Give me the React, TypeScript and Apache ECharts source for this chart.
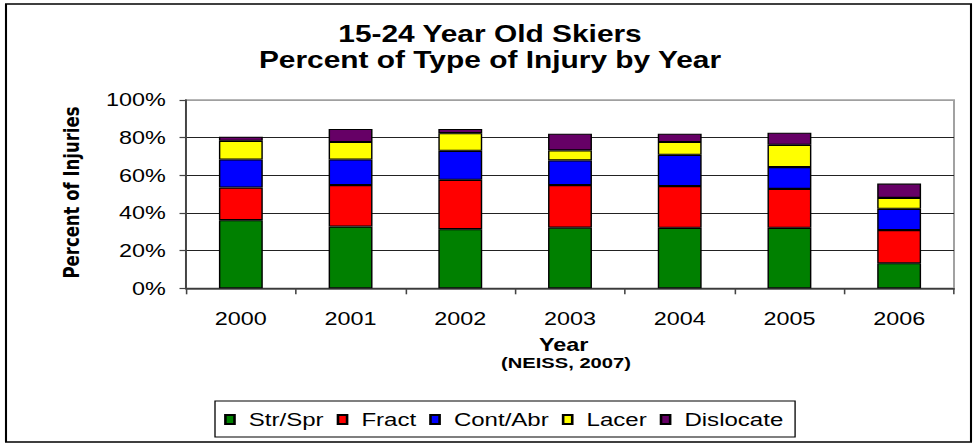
import React, { useEffect, useRef } from "react";
import * as echarts from "echarts";

// ---- data ----
const years = ["2000", "2001", "2002", "2003", "2004", "2005", "2006"];
const strSpr = [36.2, 32.8, 31.4, 32.2, 32.1, 32.1, 13.3];
const fract = [17.3, 22.0, 26.2, 22.6, 22.2, 20.7, 17.6];
const contAbr = [14.9, 13.6, 15.4, 13.1, 16.6, 11.6, 11.3];
const lacer = [9.9, 9.3, 9.4, 5.3, 6.8, 11.8, 5.8];
const dislocate = [2.2, 6.9, 2.2, 8.9, 4.4, 6.4, 7.6];
const seriesNames = ["Str/Spr", "Fract", "Cont/Abr", "Lacer", "Dislocate"];
const seriesData = [strSpr, fract, contAbr, lacer, dislocate];
const seriesColors = ["#008000", "#FF0000", "#0000FF", "#FFFF00", "#660066"];
const titleLines = ["15-24 Year Old Skiers", "Percent of Type of Injury by Year"];
const yAxisName = "Percent of Injuries";
const xAxisName = "Year";
const sourceNote = "(NEISS, 2007)";

// The reference is horizontally stretched; draw at base width and stretch.
const W = 749;
const H = 444;
const SX = 974 / W;
const px = (x: number) => x / SX; // reference x -> base x

const ARIAL = "'Liberation Sans', Arial, sans-serif";

export default function App() {
  const ref = useRef<HTMLDivElement>(null);

  useEffect(() => {
    if (!ref.current) return;
    const chart = echarts.init(ref.current, undefined, { renderer: "svg" });
    const option: any = {
      animation: false,
      backgroundColor: "#ffffff",
      title: {
        text: titleLines.join("\n"),
        left: px(490),
        textAlign: "center",
        top: 21,
        padding: 0,
        textStyle: {
          fontFamily: ARIAL,
          fontSize: 23,
          fontWeight: "bold",
          color: "#000",
          lineHeight: 26.5,
        },
      },
      grid: {
        left: px(186),
        right: W - px(954),
        top: 100,
        bottom: H - 288.3,
        show: true,
        borderColor: "#a0a0a0",
        borderWidth: 1.5,
      },
      legend: {
        data: seriesNames,
        left: px(215),
        top: 401,
        orient: "horizontal",
        padding: [9, 9, 8, 7],
        itemGap: 10,
        itemWidth: 7,
        itemHeight: 9,
        borderColor: "#000",
        borderWidth: 1,
        icon: "rect",
        textStyle: {
          fontFamily: ARIAL,
          fontSize: 18.5,
          color: "#000",
          padding: [0, 0, 0, 6],
        },
      },
      xAxis: {
        type: "category",
        data: years,
        axisLine: { show: true, lineStyle: { color: "#444", width: 1.5 } },
        axisTick: { show: true, length: 6, lineStyle: { color: "#444", width: 1.2 } },
        axisLabel: { fontFamily: ARIAL, fontSize: 18, color: "#000", margin: 21 },
        splitLine: { show: false },
      },
      yAxis: {
        type: "value",
        min: 0,
        max: 100,
        interval: 20,
        axisLine: { show: true, lineStyle: { color: "#444", width: 1.5 } },
        axisTick: { show: true, length: 5, lineStyle: { color: "#444", width: 1.2 } },
        axisLabel: {
          formatter: "{value}%",
          fontFamily: ARIAL,
          fontSize: 18,
          color: "#000",
          margin: 15.6,
        },
        splitLine: {
          show: true,
          lineStyle: {
            color: ["#222", "#222", "#222", "#222", "#222", "#a0a0a0"],
            width: 1,
          },
        },
      },
      series: seriesNames.map((name, i) => ({
        name,
        type: "bar",
        stack: "total",
        barWidth: "40%",
        data: seriesData[i],
        itemStyle: { color: seriesColors[i], borderColor: "#000", borderWidth: 1.1 },
      })),
      graphic: [
        {
          type: "rect",
          shape: { x: px(6), y: 4, width: px(971) - px(6), height: 438 },
          style: { fill: "none", stroke: "#000", lineWidth: 1.6 },
          silent: true,
          z: -1,
        },
        {
          type: "text",
          x: px(71.7),
          y: 192.5,
          rotation: Math.PI / 2,
          style: {
            text: yAxisName,
            fontFamily: "'DejaVu Sans', sans-serif",
            fontSize: 16.5,
            fontWeight: "bold",
            fill: "#000",
            align: "center",
            verticalAlign: "middle",
          },
        },
        {
          type: "text",
          x: px(563.7),
          y: 344.7,
          style: {
            text: xAxisName,
            fontFamily: ARIAL,
            fontSize: 18,
            fontWeight: "bold",
            fill: "#000",
            align: "center",
            verticalAlign: "middle",
          },
        },
        {
          type: "text",
          x: px(566),
          y: 362.5,
          style: {
            text: sourceNote,
            fontFamily: ARIAL,
            fontSize: 15.5,
            fontWeight: "bold",
            fill: "#000",
            align: "center",
            verticalAlign: "middle",
          },
        },
      ],
    };
    chart.setOption(option);
    return () => chart.dispose();
  }, []);

  return (
    <div
      ref={ref}
      style={{
        position: "fixed",
        left: 0,
        top: 0,
        width: W,
        height: H,
        transform: `scaleX(${SX})`,
        transformOrigin: "0 0",
        background: "#fff",
      }}
    />
  );
}
